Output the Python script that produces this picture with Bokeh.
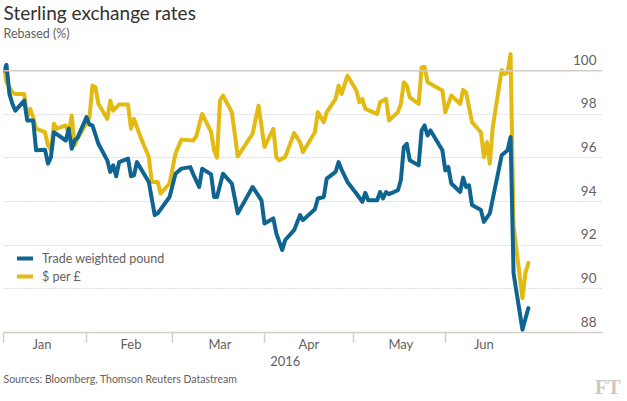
import pandas as pd
from bokeh.plotting import figure
from bokeh.models import FixedTicker, Legend, LegendItem, Span, Title, LinearAxis
from bokeh.core.properties import value
from bokeh.embed import file_html
from bokeh.resources import INLINE

title_text = "Sterling exchange rates"
subtitle_text = "Rebased (%)"
source_text = "Sources: Bloomberg, Thomson Reuters Datastream"
logo_text = "FT"
year_text = "2016"
year_label_date = "2016-04-08"

twi_name = "Trade weighted pound"
twi_dates = [
    "2016-01-04", "2016-01-05", "2016-01-06", "2016-01-07", "2016-01-08", "2016-01-11", "2016-01-12",
    "2016-01-14", "2016-01-15", "2016-01-18", "2016-01-19", "2016-01-20", "2016-01-21", "2016-01-25",
    "2016-01-26", "2016-01-27", "2016-01-28", "2016-01-29", "2016-02-01", "2016-02-02", "2016-02-03",
    "2016-02-05", "2016-02-08", "2016-02-09", "2016-02-10", "2016-02-11", "2016-02-12", "2016-02-15",
    "2016-02-16", "2016-02-17", "2016-02-18", "2016-02-22", "2016-02-24", "2016-02-25", "2016-02-29",
    "2016-03-02", "2016-03-04", "2016-03-07", "2016-03-08", "2016-03-10", "2016-03-11", "2016-03-14",
    "2016-03-15", "2016-03-16", "2016-03-18", "2016-03-21", "2016-03-23", "2016-03-28", "2016-03-31",
    "2016-04-01", "2016-04-04", "2016-04-05", "2016-04-07", "2016-04-08", "2016-04-11", "2016-04-13",
    "2016-04-14", "2016-04-18", "2016-04-19", "2016-04-21", "2016-04-22", "2016-04-25", "2016-04-26",
    "2016-04-27", "2016-04-29", "2016-05-02", "2016-05-04", "2016-05-05", "2016-05-06", "2016-05-09",
    "2016-05-10", "2016-05-11", "2016-05-12", "2016-05-13", "2016-05-16", "2016-05-17", "2016-05-18",
    "2016-05-19", "2016-05-20", "2016-05-23", "2016-05-24", "2016-05-25", "2016-05-26", "2016-05-27",
    "2016-05-31", "2016-06-01", "2016-06-02", "2016-06-03", "2016-06-06", "2016-06-07", "2016-06-08",
    "2016-06-09", "2016-06-10", "2016-06-13", "2016-06-14", "2016-06-16", "2016-06-20", "2016-06-22",
    "2016-06-23", "2016-06-24", "2016-06-27", "2016-06-29",
]
twi_values = [
    100.0, 100.27, 98.94, 98.48, 98.17, 98.63, 97.72,
    97.72, 96.35, 96.38, 95.74, 96.04, 97.18, 96.80,
    97.34, 96.42, 96.80, 96.93, 97.87, 97.53, 97.49,
    96.65, 95.89, 95.36, 95.66, 95.16, 95.81, 95.97,
    95.16, 95.21, 95.81, 94.90, 93.38, 93.46, 94.21,
    95.28, 95.51, 95.58, 95.25, 94.67, 95.51, 95.25,
    94.21, 94.21, 95.28, 94.83, 93.46, 94.67, 94.06,
    93.00, 93.23, 92.54, 91.78, 92.24, 92.69, 93.38,
    93.15, 93.65, 94.14, 94.21, 95.05, 95.36, 95.81,
    95.47, 94.90, 94.37, 93.99, 94.40, 94.06, 94.06,
    94.44, 94.14, 94.44, 94.34, 94.52, 94.98, 96.50,
    96.65, 95.89, 95.66, 97.26, 97.49, 97.03, 97.26,
    96.35, 95.43, 95.59, 94.83, 94.44, 95.10, 94.67,
    94.75, 93.84, 93.61, 93.07, 93.46, 96.12, 96.35,
    96.96, 90.72, 88.13, 89.12,
]

usd_name = "$ per £"
usd_dates = [
    "2016-01-04", "2016-01-05", "2016-01-07", "2016-01-08", "2016-01-11", "2016-01-12", "2016-01-13",
    "2016-01-14", "2016-01-15", "2016-01-18", "2016-01-19", "2016-01-20", "2016-01-21", "2016-01-22",
    "2016-01-25", "2016-01-26", "2016-01-27", "2016-01-28", "2016-01-29", "2016-02-01", "2016-02-02",
    "2016-02-03", "2016-02-04", "2016-02-05", "2016-02-08", "2016-02-09", "2016-02-10", "2016-02-12",
    "2016-02-15", "2016-02-16", "2016-02-17", "2016-02-19", "2016-02-22", "2016-02-23", "2016-02-25",
    "2016-02-26", "2016-02-29", "2016-03-02", "2016-03-04", "2016-03-08", "2016-03-09", "2016-03-11",
    "2016-03-14", "2016-03-15", "2016-03-16", "2016-03-17", "2016-03-18", "2016-03-21", "2016-03-23",
    "2016-03-28", "2016-03-30", "2016-04-01", "2016-04-04", "2016-04-05", "2016-04-06", "2016-04-08",
    "2016-04-11", "2016-04-13", "2016-04-14", "2016-04-18", "2016-04-19", "2016-04-21", "2016-04-22",
    "2016-04-25", "2016-04-26", "2016-04-27", "2016-04-29", "2016-05-02", "2016-05-03", "2016-05-04",
    "2016-05-05", "2016-05-09", "2016-05-10", "2016-05-12", "2016-05-13", "2016-05-16", "2016-05-17",
    "2016-05-18", "2016-05-19", "2016-05-20", "2016-05-23", "2016-05-24", "2016-05-25", "2016-05-26",
    "2016-05-31", "2016-06-01", "2016-06-03", "2016-06-06", "2016-06-07", "2016-06-08", "2016-06-10",
    "2016-06-13", "2016-06-14", "2016-06-15", "2016-06-16", "2016-06-17", "2016-06-20", "2016-06-21",
    "2016-06-22", "2016-06-23", "2016-06-24", "2016-06-27", "2016-06-28", "2016-06-29",
]
usd_values = [
    100.0, 99.47, 99.00, 98.93, 98.93, 97.87, 98.25,
    97.87, 97.34, 97.18, 96.58, 96.35, 97.57, 97.34,
    97.49, 97.11, 97.95, 96.58, 96.90, 97.60, 97.87,
    99.32, 99.24, 98.48, 97.79, 98.63, 98.17, 98.45,
    98.45, 97.34, 97.79, 97.03, 96.04, 94.90, 94.90,
    94.37, 94.83, 96.20, 96.84, 96.80, 96.99, 98.02,
    97.20, 96.35, 96.01, 98.63, 98.86, 98.10, 96.07,
    97.11, 98.40, 96.50, 97.34, 96.04, 95.89, 96.04,
    97.14, 96.73, 96.27, 97.18, 98.10, 97.64, 98.10,
    98.71, 99.32, 98.93, 99.77, 99.09, 98.55, 98.71,
    98.25, 98.02, 98.55, 98.71, 97.72, 98.10, 98.48,
    99.47, 99.32, 98.78, 98.48, 100.15, 100.18, 99.47,
    99.09, 98.10, 98.86, 98.48, 99.12, 99.00, 97.64,
    97.18, 96.04, 96.73, 95.74, 97.41, 100.03, 99.85,
    99.92, 100.76, 92.90, 89.57, 90.72, 91.20,
]

y_ticks = [88, 90, 92, 94, 96, 98, 100]
baseline_value = 100
month_names = ["Jan", "Feb", "Mar", "Apr", "May", "Jun"]
month_label_dates = ["2016-01-17", "2016-02-16", "2016-03-17", "2016-04-16", "2016-05-17", "2016-06-14"]
month_starts = ["2016-02-01", "2016-03-01", "2016-04-01", "2016-05-01", "2016-06-01"]
x_start = "2016-01-04"
x_end = "2016-07-24"
y_min, y_max = 88, 101.2

FONT = "Lato"
BLUE = "#0f6591"
YELLOW = "#e3ba12"
TITLE_COLOR = "#33302e"
TEXT_COLOR = "#66605c"
RULE_COLOR = "#d5ccc3"
GRID_COLOR = "#c4bcb5"
LOGO_COLOR = "#d3c7bc"

base = pd.Timestamp("2016-01-01")


def day(d):
    return int((pd.Timestamp(d) - base).days)


p = figure(
    width=627, height=401, output_backend="svg", toolbar_location=None, title=None,
    x_range=(day(x_start), day(x_end)), y_range=(y_min, y_max),
    min_border_left=3, min_border_right=25, min_border_top=44, min_border_bottom=69,
    background_fill_color="white", border_fill_color="white", outline_line_color=None,
)

p.yaxis.visible = False
p.xgrid.visible = False
p.ygrid.ticker = FixedTicker(ticks=[t for t in y_ticks if t not in (y_ticks[0], baseline_value)])
p.ygrid.grid_line_color = GRID_COLOR
p.ygrid.grid_line_dash = "1 2"
p.ygrid.grid_line_width = 1

p.add_layout(Span(location=baseline_value, dimension="width", line_color=RULE_COLOR, line_width=1.5))

xax = p.xaxis[0]
xax.ticker = FixedTicker(
    ticks=[day(d) for d in month_label_dates],
    minor_ticks=[day(x_start)] + [day(m) for m in month_starts],
)
xax.major_label_overrides = {day(d): n for d, n in zip(month_label_dates, month_names)}
xax.major_tick_line_color = None
xax.major_tick_in = 0
xax.major_tick_out = 0
xax.minor_tick_line_color = RULE_COLOR
xax.minor_tick_line_width = 1.5
xax.minor_tick_in = 0
xax.minor_tick_out = 10
xax.axis_line_color = RULE_COLOR
xax.axis_line_width = 1.5
xax.major_label_text_font = FONT
xax.major_label_text_font_size = "13px"
xax.major_label_text_color = TEXT_COLOR
xax.major_label_standoff = -7

year_axis = LinearAxis(
    ticker=FixedTicker(ticks=[day(year_label_date)]),
    major_label_overrides={day(year_label_date): year_text},
    axis_line_color=None, major_tick_line_color=None, minor_tick_line_color=None,
    major_tick_in=0, major_tick_out=0, major_label_standoff=1,
    major_label_text_font=FONT, major_label_text_font_size="13px", major_label_text_color=TEXT_COLOR,
)
p.add_layout(year_axis, "below")

p.text(
    x=[day(x_end)] * len(y_ticks), y=y_ticks, text=[str(t) for t in y_ticks],
    text_align="right", text_baseline="alphabetic", x_offset=-6, y_offset=-11,
    text_font=value(FONT), text_font_size="13.5px", text_color=TEXT_COLOR,
)

r_usd = p.line(
    x=[day(d) for d in usd_dates], y=usd_values, line_color=YELLOW, line_width=4,
    line_join="round", line_cap="round",
)
r_twi = p.line(
    x=[day(d) for d in twi_dates], y=twi_values, line_color=BLUE, line_width=4,
    line_join="round", line_cap="round",
)

legend = Legend(
    items=[LegendItem(label=twi_name, renderers=[r_twi]), LegendItem(label=usd_name, renderers=[r_usd])],
    location=(14, 48), padding=0, margin=0, spacing=2,
    glyph_width=16, glyph_height=16, label_height=16, label_standoff=9,
    label_text_font=FONT, label_text_font_size="12.5px", label_text_color=TEXT_COLOR,
    background_fill_alpha=0, border_line_color=None,
)
p.add_layout(legend)

p.add_layout(Title(text=subtitle_text, align="left", vertical_align="top", text_font=FONT,
                   text_font_size="12.5px", text_font_style="normal", text_color=TEXT_COLOR,
                   standoff=4), "above")
p.add_layout(Title(text=title_text, align="left", vertical_align="top", text_font=FONT,
                   text_font_size="19px", text_font_style="normal", text_color=TITLE_COLOR,
                   standoff=-4), "above")
p.add_layout(Title(text=source_text, align="left", vertical_align="bottom", text_font=FONT,
                   text_font_size="10.5px", text_font_style="normal", text_color=TEXT_COLOR,
                   standoff=5), "below")
p.add_layout(Title(text=logo_text, align="right", vertical_align="top", offset=-18,
                   text_font="Liberation Serif", text_font_size="20px", text_font_style="bold",
                   text_color=LOGO_COLOR, standoff=-24), "below")

open("out.html", "w").write(file_html(p, INLINE))
